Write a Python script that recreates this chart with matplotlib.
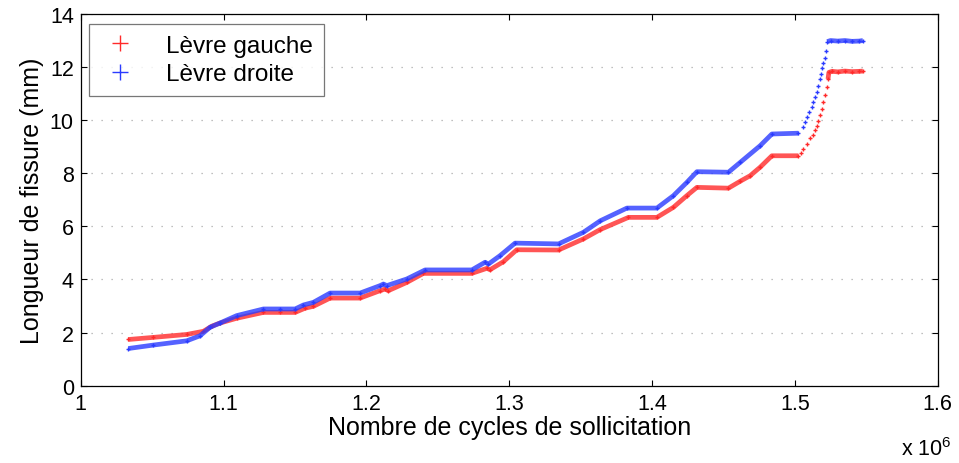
import numpy as np
import matplotlib
matplotlib.use("Agg")
import matplotlib.pyplot as plt

plt.rcParams['font.family'] = ['Liberation Sans', 'DejaVu Sans']
plt.rcParams['mathtext.fontset'] = 'custom'
plt.rcParams['mathtext.rm'] = 'Liberation Sans'

# cycles (x 1e6) and crack length (mm), left lip
cycles_gauche = [1.0333, 1.0508, 1.0742, 1.0859, 1.0917, 1.0975, 1.1092, 1.1279,
                 1.1396, 1.1501, 1.1571, 1.1629, 1.1746, 1.1956, 1.2096, 1.2131,
                 1.2154, 1.2283, 1.2399, 1.2738, 1.2843, 1.2866, 1.2959, 1.3053,
                 1.3345, 1.3520, 1.3637, 1.3835, 1.4034, 1.4150, 1.4244, 1.4314,
                 1.4535, 1.4617, 1.4687, 1.4757, 1.4839, 1.5025,
                 1.5040, 1.5060, 1.5084, 1.5107, 1.5126, 1.5142, 1.5154, 1.5165,
                 1.5177, 1.5189, 1.5200, 1.5212, 1.5224, 1.5232, 1.5238,
                 1.5260, 1.5300, 1.5350, 1.5400, 1.5450, 1.5476]
longueur_gauche = [1.74, 1.82, 1.93, 2.05, 2.24, 2.36, 2.54, 2.76,
                   2.76, 2.76, 2.92, 2.99, 3.30, 3.30, 3.58, 3.64,
                   3.58, 3.89, 4.23, 4.23, 4.42, 4.37, 4.67, 5.12,
                   5.11, 5.53, 5.88, 6.34, 6.34, 6.72, 7.16, 7.47,
                   7.44, 7.70, 7.91, 8.23, 8.66, 8.66,
                   8.78, 8.92, 9.12, 9.32, 9.45, 9.62, 9.80, 9.98,
                   10.20, 10.42, 10.67, 10.95, 11.24, 11.55, 11.80,
                   11.84, 11.82, 11.85, 11.83, 11.84, 11.85]

# right lip
cycles_droite = [1.0333, 1.0508, 1.0742, 1.0835, 1.0905, 1.0975, 1.1092, 1.1279,
                 1.1396, 1.1501, 1.1559, 1.1629, 1.1746, 1.1956, 1.2096, 1.2119,
                 1.2143, 1.2283, 1.2411, 1.2738, 1.2831, 1.2854, 1.2936, 1.3041,
                 1.3345, 1.3520, 1.3637, 1.3824, 1.4034, 1.4150, 1.4244, 1.4314,
                 1.4535, 1.4617, 1.4757, 1.4839, 1.5025,
                 1.5056, 1.5072, 1.5084, 1.5102, 1.5119, 1.5130, 1.5142, 1.5154,
                 1.5165, 1.5177, 1.5184, 1.5193, 1.5200, 1.5212, 1.5219, 1.5226,
                 1.5250, 1.5300, 1.5350, 1.5400, 1.5450, 1.5476]
longueur_droite = [1.40, 1.53, 1.69, 1.88, 2.20, 2.36, 2.64, 2.89,
                   2.89, 2.89, 3.04, 3.14, 3.49, 3.49, 3.77, 3.83,
                   3.77, 4.02, 4.36, 4.36, 4.65, 4.58, 4.90, 5.37,
                   5.34, 5.78, 6.21, 6.69, 6.69, 7.16, 7.66, 8.06,
                   8.04, 8.41, 9.04, 9.48, 9.51,
                   9.73, 9.92, 10.11, 10.30, 10.49, 10.67, 10.86, 11.05,
                   11.30, 11.55, 11.74, 11.95, 12.14, 12.33, 12.62, 12.96,
                   13.00, 12.98, 13.00, 12.97, 12.98, 13.00]

# final rupture: points are sparse between these cycle counts
saut_debut = 1.5026
saut_fin = 1.5225

fig = plt.figure(figsize=(9.59, 4.64), dpi=100)
ax = fig.add_axes([0.0842, 0.1666, 0.8936, 0.8011])

series = [
    (cycles_gauche, longueur_gauche, '#ff2a2a', 'Lèvre gauche'),
    (cycles_droite, longueur_droite, '#2a3bff', 'Lèvre droite'),
]
for cx, ly, col, lab in series:
    cx = np.array(cx)
    ly = np.array(ly)
    # dense measurement band before and after the jump
    for m in (cx <= saut_debut, cx >= saut_fin):
        ax.plot(cx[m], ly[m], '-', color=col, lw=3.4, alpha=0.8,
                solid_capstyle='butt')
    ax.plot(cx, ly, '+', color=col, ms=3.4, mew=1.0, linestyle='none', label=lab)

ax.set_xlim(1, 1.6)
ax.set_ylim(0, 14)
ax.set_xticks(np.arange(1, 1.61, 0.1))
ax.set_xticklabels(['1', '1.1', '1.2', '1.3', '1.4', '1.5', '1.6'])
ax.set_yticks(range(0, 15, 2))

ax.yaxis.grid(True, color='#aaaaaa', linestyle=(0, (1, 7)), lw=0.9)
ax.set_axisbelow(True)
ax.tick_params(direction='in', top=True, right=True, length=4, width=0.8,
               labelsize=15.5, pad=5)
for s in ax.spines.values():
    s.set_linewidth(0.9)

ax.set_xlabel('Nombre de cycles de sollicitation', fontsize=18, labelpad=1)
ax.set_ylabel('Longueur de fissure (mm)', fontsize=18, labelpad=4)
fig.text(0.992, 0.006, 'x 10$^{6}$', fontsize=15.5, ha='right', va='bottom')

leg = ax.legend(loc='upper left', bbox_to_anchor=(0.01, 0.973), borderaxespad=0,
                fontsize=17.5, markerscale=3.2, fancybox=False, handlelength=1.6,
                handletextpad=1.1, borderpad=0.45, labelspacing=0.25)
leg.get_frame().set_edgecolor('#555555')
leg.get_frame().set_linewidth(0.9)

fig.savefig('out.png', dpi=100)
